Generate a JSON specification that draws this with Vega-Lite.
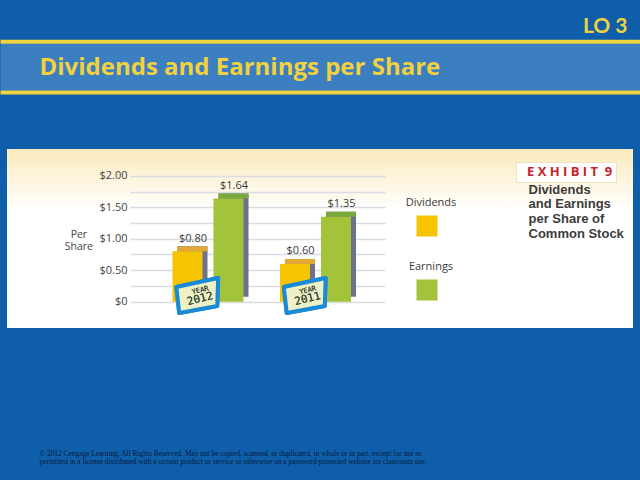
{
  "$schema": "https://vega.github.io/schema/vega-lite/v6.json",
  "width": 640,
  "height": 193,
  "autosize": {"type": "none"},
  "padding": {"left": 0, "top": 142, "right": 0, "bottom": 145},
  "background": "#0f5ea9",
  "config": {
    "view": {
      "fill": {"gradient": "linear", "x1": 0, "y1": 0, "x2": 0, "y2": 1, "stops": [{"offset": 0, "color": "#fbe8b4"}, {"offset": 0.35, "color": "#ffffff"}]},
      "stroke": "#0f5ea9",
      "strokeWidth": 14
    },
    "font": "Open Sans",
    "axis": {"labelFont": "Open Sans", "titleFont": "Open Sans"},
    "legend": {"labelFont": "Open Sans"}
  },
  "data": {
    "values": [
      {"year": "2012", "type": "Dividends", "value": 0.80},
      {"year": "2012", "type": "Earnings", "value": 1.64},
      {"year": "2011", "type": "Dividends", "value": 0.60},
      {"year": "2011", "type": "Earnings", "value": 1.35}
    ]
  },
  "resolve": {"scale": {"x": "independent"}, "axis": {"x": "independent", "y": "independent"}},
  "layer": [
    {
      "mark": {"type": "point", "opacity": 0},
      "encoding": {
        "x": {"field": "year", "type": "nominal", "axis": {"orient": "top", "offset": 75.3, "domainColor": "#3b7fc0", "domainWidth": 46.7, "labels": false, "ticks": false, "grid": false, "title": null}}
      }
    },
    {
      "mark": {"type": "point", "opacity": 0},
      "encoding": {
        "x": {"field": "year", "type": "nominal", "axis": {"orient": "top", "offset": 100.7, "domainColor": "#f1d23f", "domainWidth": 4, "labels": false, "ticks": false, "grid": false, "title": "LO 3", "titleX": 627, "titleY": -9, "titleAlign": "right", "titleBaseline": "alphabetic", "titleFont": "Lato", "titleFontSize": 21, "titleFontWeight": "bold", "titleColor": "#f2d13e"}},
        "y": {"field": "value", "type": "quantitative", "scale": {"domain": [-0.529, 2.537], "nice": false, "zero": false}, "axis": {"orient": "right", "domain": false, "ticks": false, "labels": false, "grid": false, "title": ["Dividends", "and Earnings", "per Share of", "Common Stock"], "titleAngle": 0, "titleX": -112, "titleY": 51, "titleAlign": "left", "titleBaseline": "alphabetic", "titleFont": "Liberation Sans", "titleFontSize": 13, "titleFontWeight": "bold", "titleColor": "#3b3b3b", "titleLineHeight": 14.8}}
      }
    },
    {
      "mark": {"type": "point", "opacity": 0},
      "encoding": {
        "x": {"field": "year", "type": "nominal", "axis": {"orient": "top", "offset": 50, "domainColor": "#f1d23f", "domainWidth": 4, "labels": false, "ticks": false, "grid": false, "title": "Dividends and Earnings per Share", "titleX": 39, "titleY": -17.5, "titleAlign": "left", "titleBaseline": "alphabetic", "titleFont": "Open Sans", "titleFontSize": 24, "titleFontWeight": "bold", "titleColor": "#f2d13e"}},
        "shape": {"datum": "E X H I B I T\u00a0\u00a09", "legend": {"orient": "none", "legendX": 516, "legendY": 20, "title": null, "padding": 3, "fillColor": "#ffffff", "strokeColor": "#efe2c0", "symbolSize": 0, "symbolOpacity": 0, "labelOffset": -5, "labelFontSize": 13, "labelFontWeight": "bold", "labelColor": "#c8202d"}}
      }
    },
    {
      "mark": {"type": "point", "opacity": 0},
      "encoding": {
        "x": {"field": "year", "type": "nominal", "scale": {"domain": ["2012", "2011"], "range": [130, 385]},
          "axis": {"orient": "bottom", "labels": false, "ticks": false, "domain": false, "grid": false,
            "title": ["© 2012 Cengage Learning. All Rights Reserved. May not be copied, scanned, or duplicated, in whole or in part, except for use as", "permitted in a license distributed with a certain product or service or otherwise on a password-protected website for classroom use."],
            "titleX": 39, "titleY": 120, "titleAlign": "left", "titleBaseline": "alphabetic", "titleFont": "Liberation Serif", "titleFontSize": 7.4, "titleFontWeight": "normal", "titleColor": "#0a1a40", "titleLineHeight": 8}},
        "y": {"field": "value", "type": "quantitative", "scale": {"domain": [-0.529, 2.537], "nice": false, "zero": false},
          "axis": {"orient": "left", "offset": -133, "values": [0, 0.25, 0.5, 0.75, 1, 1.25, 1.5, 1.75, 2],
            "labelExpr": "datum.value % 0.5 != 0 ? '' : (datum.value == 0 ? '$0' : format(datum.value, '$.2f'))",
            "domain": false, "ticks": false, "labelPadding": 6, "labelFontSize": 11, "labelColor": "#444444",
            "grid": true, "gridColor": "#d9dce2", "gridWidth": 1.5,
            "title": ["Per", "Share"], "titleAngle": 0, "titleX": -54.6, "titleY": 95.3, "titleAlign": "center", "titleBaseline": "alphabetic", "titleFontSize": 10.5, "titleFontWeight": "normal", "titleColor": "#444444", "titleLineHeight": 12.6}}
      }
    },
    {
      "resolve": {"scale": {"xOffset": "independent"}},
      "encoding": {
        "x": {"field": "year", "type": "nominal", "scale": {"domain": ["2012", "2011"], "range": [130, 385], "paddingInner": 0, "paddingOuter": 0.186, "align": 0.606}, "axis": null}
      },
      "layer": [
        {
          "encoding": {"xOffset": {"field": "type", "type": "nominal", "scale": {"domain": ["Dividends", "Earnings"], "paddingInner": 0.268, "paddingOuter": 0.445, "align": 0.637}}},
          "layer": [
            {
              "mark": {"type": "bar", "yOffset": -5, "y2Offset": -5, "color": "#6d7189"},
              "encoding": {
                "y": {"field": "value", "type": "quantitative", "stack": null, "axis": null},
                "y2": {"datum": 0}
              }
            },
            {
              "mark": {"type": "bar", "yOffset": -5, "y2Offset": 0},
              "encoding": {
                "y": {"field": "value", "type": "quantitative", "stack": null, "axis": null},
                "y2": {"field": "value"},
                "color": {"condition": {"test": "datum.type === 'Dividends'", "value": "#e4a935"}, "value": "#79a83c"}
              }
            }
          ]
        },
        {
          "encoding": {"xOffset": {"field": "type", "type": "nominal", "scale": {"domain": ["Dividends", "Earnings"], "paddingInner": 0.268, "paddingOuter": 0.445}}},
          "layer": [
            {
              "mark": {"type": "bar"},
              "encoding": {
                "y": {"field": "value", "type": "quantitative", "stack": null, "scale": {"domain": [-0.529, 2.537], "nice": false, "zero": false}, "axis": null},
                "y2": {"datum": 0},
                "color": {"field": "type", "type": "nominal", "scale": {"domain": ["Dividends", "Earnings"], "range": ["#f6c400", "#a3c33b"]},
                  "legend": {"orient": "none", "legendX": 416.5, "legendY": 73.5, "title": null, "direction": "vertical", "symbolType": "square", "symbolSize": 441, "symbolStrokeWidth": 0, "symbolOpacity": 1, "rowPadding": 24, "padding": 0, "labelFontSize": 11, "labelColor": "#3a3a3a", "labelAlign": "center", "labelOffset": -6.5,
                    "encode": {"labels": {"update": {"dy": {"value": -23}}}}}}
              }
            },
            {
              "mark": {"type": "text", "dy": -9.5, "dx": 5.5, "baseline": "alphabetic", "fontSize": 11, "color": "#3a3a3a"},
              "encoding": {
                "y": {"field": "value", "type": "quantitative", "stack": null, "axis": null},
                "text": {"field": "value", "type": "quantitative", "format": "$.2f"}
              }
            }
          ]
        },
        {
          "mark": {"type": "point", "shape": "M-0.95,-0.41L0.95,-0.82L0.91,0.45L-0.82,0.77Z", "size": 1936, "filled": true, "fill": "#eef1c6", "stroke": "#1b8ad6", "strokeWidth": 4, "strokeJoin": "round", "opacity": 1},
          "encoding": {
            "x": {"field": "year", "type": "nominal", "bandPosition": 0.4, "axis": null},
            "y": {"datum": 0.09, "axis": null}
          }
        },
        {
          "mark": {"type": "text", "text": "YEAR", "angle": -14, "fontSize": 7, "font": "DejaVu Sans Mono", "color": "#3a4a3a", "dx": 3, "baseline": "middle"},
          "encoding": {
            "x": {"field": "year", "type": "nominal", "bandPosition": 0.4, "axis": null},
            "y": {"datum": 0.17, "axis": null}
          }
        },
        {
          "mark": {"type": "text", "angle": -14, "fontSize": 11, "font": "DejaVu Sans Mono", "color": "#3a4a3a", "dx": 3, "baseline": "middle"},
          "encoding": {
            "x": {"field": "year", "type": "nominal", "bandPosition": 0.4, "axis": null},
            "y": {"datum": 0.03, "axis": null},
            "text": {"field": "year", "type": "nominal"}
          }
        }
      ]
    }
  ]
}
